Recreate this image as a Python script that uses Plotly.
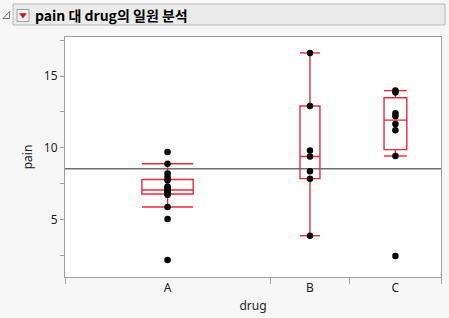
import numpy as np
import plotly.graph_objects as go

categories = ["A", "B", "C"]
pain_A = [2.16, 5.02, 5.86, 6.72, 6.78, 6.85, 6.95, 7.0, 7.03, 7.07, 7.15, 7.2, 7.3, 7.72, 7.95, 8.2, 8.88, 9.70]
pain_B = [3.86, 7.84, 8.35, 9.38, 9.81, 12.91, 16.61]
pain_C = [2.44, 9.42, 11.21, 11.65, 12.2, 12.4, 13.85, 13.98]
y_ticks = [5, 10, 15]

groups = [pain_A, pain_B, pain_C]
RED = "#e62a3c"
GRAY = "#a0a0a0"

sizes = [len(g) for g in groups]
bounds = np.concatenate([[0], np.cumsum(sizes)])
centers = [(bounds[i] + bounds[i + 1]) / 2 for i in range(3)]
widths = [s / 4 for s in sizes]

fig = go.Figure()
cap_x, cap_y = [], []
for i, g in enumerate(groups):
    arr = np.array(g)
    q1, med, q3 = np.quantile(arr, [0.25, 0.5, 0.75], method="weibull")
    iqr = q3 - q1
    lo = arr[arr >= q1 - 1.5 * iqr].min()
    hi = arr[arr <= q3 + 1.5 * iqr].max()
    fig.add_trace(go.Box(
        x=[centers[i]], q1=[q1], median=[med], q3=[q3], lowerfence=[lo], upperfence=[hi],
        width=widths[i], line=dict(color=RED, width=1.4), fillcolor="rgba(0,0,0,0)",
        boxpoints=False, whiskerwidth=0, showlegend=False, hoverinfo="skip"))
    for v in (lo, hi):
        cap_x += [centers[i] - widths[i] / 2, centers[i] + widths[i] / 2, None]
        cap_y += [v, v, None]
fig.add_trace(go.Scatter(x=cap_x, y=cap_y, mode="lines", line=dict(color=RED, width=1.4),
                         showlegend=False, hoverinfo="skip"))

px_, py_ = [], []
for i, g in enumerate(groups):
    px_ += [centers[i]] * len(g)
    py_ += g
fig.add_trace(go.Scatter(x=px_, y=py_, mode="markers", marker=dict(color="black", size=6.5),
                         showlegend=False))

overall_mean = float(np.mean(np.concatenate(groups)))
fig.add_shape(type="line", xref="x", yref="y", x0=0, x1=bounds[-1], y0=overall_mean, y1=overall_mean,
              line=dict(color="#707070", width=1.3), layer="below")

# header
L, R, T, B = 65, 441, 37, 277
def px2x(p): return (p - L) / (R - L)
def py2y(p): return (B - p) / (B - T)
fig.add_shape(type="rect", xref="paper", yref="paper", x0=px2x(13), x1=px2x(445), y0=py2y(25), y1=py2y(4),
              fillcolor="#ebebeb", line=dict(color="#b8b8b8", width=1))
fig.add_shape(type="rect", xref="paper", yref="paper", x0=px2x(17), x1=px2x(29), y0=py2y(21.5), y1=py2y(9.5),
              fillcolor="#f4f4f4", line=dict(color="#a0a0a0", width=1))
fig.add_shape(type="path", xref="paper", yref="paper",
              path=f"M {px2x(19.5)} {py2y(13.5)} L {px2x(26.5)} {py2y(13.5)} L {px2x(23)} {py2y(18)} Z",
              fillcolor="#d01020", line=dict(color="#d01020", width=0.5))
fig.add_shape(type="path", xref="paper", yref="paper",
              path=f"M {px2x(9.5)} {py2y(11.5)} L {px2x(9.5)} {py2y(18.5)} L {px2x(3)} {py2y(18.5)} Z",
              fillcolor="rgba(0,0,0,0)", line=dict(color="#707070", width=1))
fig.add_annotation(xref="paper", yref="paper", x=px2x(32.5), y=py2y(14.5), xanchor="left", yanchor="middle",
                   text="<b>pain 대 drug의 일원 분석</b>", showarrow=False,
                   font=dict(family="Noto Sans CJK KR", size=14, color="black"))

fig.update_layout(
    width=449, height=318, margin=dict(l=L, r=449 - R, t=T, b=318 - B),
    paper_bgcolor="#f7f7f7", plot_bgcolor="white",
    font=dict(family="Noto Sans", size=12, color="#222222"),
    boxmode="overlay",
    xaxis=dict(range=[0, bounds[-1]], tickvals=centers, ticktext=categories, ticks="",
               showgrid=False, zeroline=False, showline=True, linecolor=GRAY, mirror=True,
               title=dict(text="drug", standoff=6, font=dict(size=12)), fixedrange=True),
    xaxis2=dict(range=[0, bounds[-1]], overlaying="x", side="bottom", tickvals=list(bounds),
                ticktext=[""] * len(bounds), ticks="outside", ticklen=6, tickcolor=GRAY,
                showgrid=False, zeroline=False, showline=False, anchor="y"),
    yaxis=dict(range=[0.98, 17.72], tickvals=y_ticks, ticks="outside", ticklen=4, tickcolor=GRAY,
               minor=dict(dtick=2.5, tick0=0, ticks="outside", ticklen=4, tickcolor=GRAY, showgrid=False),
               showgrid=False, zeroline=False, showline=True, linecolor=GRAY, mirror=True,
               title=dict(text="pain", standoff=8, font=dict(size=12))),
)
fig.add_trace(go.Scatter(x=[None], y=[None], xaxis="x2", showlegend=False))
fig.write_html("out.html")
